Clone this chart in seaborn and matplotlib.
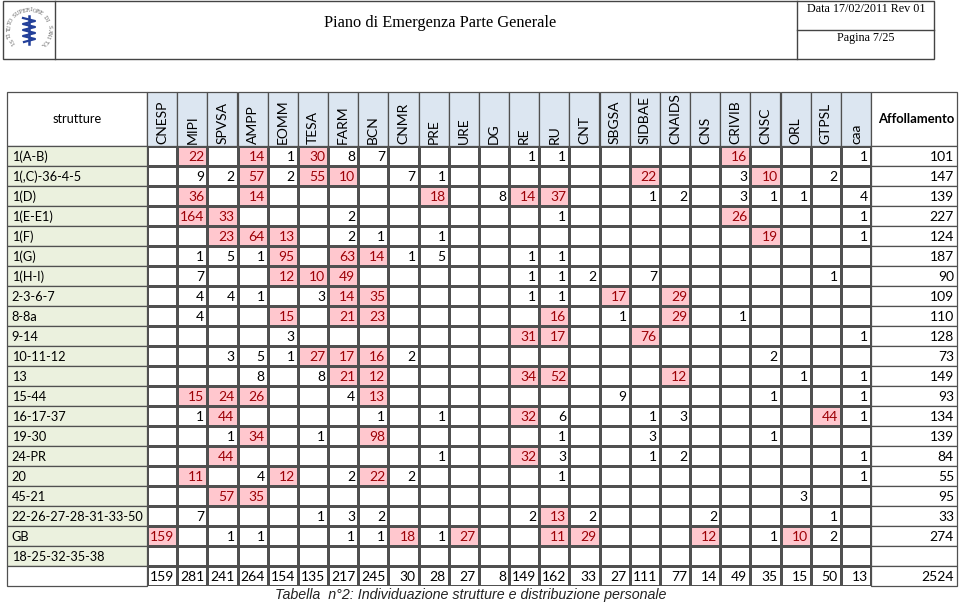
import matplotlib
matplotlib.use("Agg")
import matplotlib.pyplot as plt
from matplotlib.colors import ListedColormap
from matplotlib.patches import Rectangle
import numpy as np
import pandas as pd
import seaborn as sns

_ = None

# structures (rows) and departments (columns)
strutture = ["1(A-B)", "1(,C)-36-4-5", "1(D)", "1(E-E1)", "1(F)", "1(G)", "1(H-I)",
             "2-3-6-7", "8-8a", "9-14", "10-11-12", "13", "15-44", "16-17-37",
             "19-30", "24-PR", "20", "45-21", "22-26-27-28-31-33-50", "GB",
             "18-25-32-35-38"]
reparti = ["CNESP", "MIPI", "SPVSA", "AMPP", "EOMM", "TESA", "FARM", "BCN", "CNMR",
           "PRE", "URE", "DG", "RE", "RU", "CNT", "SBGSA", "SIDBAE", "CNAIDS", "CNS",
           "CRIVIB", "CNSC", "ORL", "GTPSL", "caa"]

# people per structure / department (None = empty cell)
valori = [
    [_, 22, _, 14, 1, 30, 8, 7, _, _, _, _, 1, 1, _, _, _, _, _, 16, _, _, _, 1],
    [_, 9, 2, 57, 2, 55, 10, _, 7, 1, _, _, _, _, _, _, 22, _, _, 3, 10, _, 2, _],
    [_, 36, _, 14, _, _, _, _, _, 18, _, 8, 14, 37, _, _, 1, 2, _, 3, 1, 1, _, 4],
    [_, 164, 33, _, _, _, 2, _, _, _, _, _, _, 1, _, _, _, _, _, 26, _, _, _, 1],
    [_, _, 23, 64, 13, _, 2, 1, _, 1, _, _, _, _, _, _, _, _, _, _, 19, _, _, 1],
    [_, 1, 5, 1, 95, _, 63, 14, 1, 5, _, _, 1, 1, _, _, _, _, _, _, _, _, _, _],
    [_, 7, _, _, 12, 10, 49, _, _, _, _, _, 1, 1, 2, _, 7, _, _, _, _, _, 1, _],
    [_, 4, 4, 1, _, 3, 14, 35, _, _, _, _, 1, 1, _, 17, _, 29, _, _, _, _, _, _],
    [_, 4, _, _, 15, _, 21, 23, _, _, _, _, _, 16, _, 1, _, 29, _, 1, _, _, _, _],
    [_, _, _, _, 3, _, _, _, _, _, _, _, 31, 17, _, _, 76, _, _, _, _, _, _, 1],
    [_, _, 3, 5, 1, 27, 17, 16, 2, _, _, _, _, _, _, _, _, _, _, _, 2, _, _, _],
    [_, _, _, 8, _, 8, 21, 12, _, _, _, _, 34, 52, _, _, _, 12, _, _, _, 1, _, 1],
    [_, 15, 24, 26, _, _, 4, 13, _, _, _, _, _, _, _, 9, _, _, _, _, 1, _, _, 1],
    [_, 1, 44, _, _, _, _, 1, _, 1, _, _, 32, 6, _, _, 1, 3, _, _, _, _, 44, 1],
    [_, _, 1, 34, _, 1, _, 98, _, _, _, _, _, 1, _, _, 3, _, _, _, 1, _, _, _],
    [_, _, 44, _, _, _, _, _, _, 1, _, _, 32, 3, _, _, 1, 2, _, _, _, _, _, 1],
    [_, 11, _, 4, 12, _, 2, 22, 2, _, _, _, _, 1, _, _, _, _, _, _, _, _, _, 1],
    [_, _, 57, 35, _, _, _, _, _, _, _, _, _, _, _, _, _, _, _, _, _, 3, _, _],
    [_, 7, _, _, _, 1, 3, 2, _, _, _, _, 2, 13, 2, _, _, _, 2, _, _, _, 1, _],
    [159, _, 1, 1, _, _, 1, 1, 18, 1, 27, _, _, 11, 29, _, _, _, 12, _, 1, 10, 2, _],
    [_] * 24,
]
affollamento = [101, 147, 139, 227, 124, 187, 90, 109, 110, 128, 73, 149, 93, 134,
                139, 84, 55, 95, 33, 274, _]
totali = [159, 281, 241, 264, 154, 135, 217, 245, 30, 28, 27, 8, 149, 162, 33, 27,
          111, 77, 14, 49, 35, 15, 50, 13]
totale_generale = 2524

SOGLIA = 10
PINK, PINK_TXT = "#ffc7ce", "#9c0006"
GREEN, BLUE = "#ebf1de", "#dce6f1"
LINE = "#505050"
FONT = "Lato"

W, H = 960, 603
fig = plt.figure(figsize=(W / 100, H / 100), dpi=100)

# page background: header box, logo, caption (pixel coordinates)
bg = fig.add_axes([0, 0, 1, 1])
bg.set_xlim(0, W)
bg.set_ylim(H, 0)
bg.axis("off")
bg.add_patch(Rectangle((3, 1), 931, 58, fill=False, ec="#444", lw=1.0))
bg.plot([55, 55], [1, 59], color="#444", lw=1.0)
bg.plot([797, 797], [1, 59], color="#444", lw=1.0)
bg.plot([797, 934], [30, 30], color="#444", lw=1.0)
bg.text(440, 23, "Piano di Emergenza Parte Generale", ha="center", va="center",
        family="Liberation Serif", fontsize=11.8)
bg.text(866, 9, "Data 17/02/2011 Rev 01", ha="center", va="center",
        family="Liberation Serif", fontsize=8.7)
bg.text(866, 38, "Pagina 7/25", ha="center", va="center",
        family="Liberation Serif", fontsize=8.7)
bg.text(471, 595, "Tabella  n°2: Individuazione strutture e distribuzione personale",
        ha="center", va="center", family="Liberation Sans", style="italic",
        fontsize=10.3, color="#222")

# logo: circular lettering and blue staff
cx, cy, r = 29, 30, 20
motto = "ISTITUTO SUPERIORE DI SANITÀ"
angs = np.linspace(220, -40, len(motto))
for ch, a in zip(motto, angs):
    t = np.deg2rad(a)
    bg.text(cx + r * np.cos(t), cy - r * np.sin(t), ch, ha="center", va="center",
            fontsize=4, color="#6a6a6a", rotation=a - 90, family="DejaVu Serif")
bg.plot([cx, cx], [cy - 14, cy + 14], color="#23409a", lw=1.8)
zig_y = np.linspace(cy - 12, cy + 12, 9)
zig_x = cx + np.array([-6, 6, -6, 6, -6, 6, -6, 6, -5])
bg.plot(zig_x, zig_y, color="#23409a", lw=1.6)

# table body via seaborn heatmap
x0, x1, y0, y1 = 147, 871, 146, 586
ax = fig.add_axes([x0 / W, 1 - y1 / H, (x1 - x0) / W, (y1 - y0) / H])

body = pd.DataFrame(valori, index=strutture, columns=reparti, dtype=float)
tot = pd.DataFrame([totali], index=["totale"], columns=reparti, dtype=float)
full = pd.concat([body, tot])
colore = (body >= SOGLIA).astype(int)
colore = pd.concat([colore, tot * 0]).fillna(0)

sns.heatmap(colore, ax=ax, cmap=ListedColormap(["white", PINK]), vmin=0, vmax=1,
            cbar=False, linewidths=0.9, linecolor=LINE, xticklabels=False,
            yticklabels=False)
ax.set_xlabel("")
ax.set_ylabel("")

ncol, nrow = len(reparti), len(full)
px_x = (x1 - x0) / ncol
px_y = (y1 - y0) / nrow
lab_w = (x0 - 7) / px_x
aff_w = (957 - x1) / px_x
head_h = (y0 - 92) / px_y
pad = 3 / px_x


def cell(x, y, w, h, fc):
    ax.add_patch(Rectangle((x, y), w, h, facecolor=fc, edgecolor=LINE, lw=0.9,
                           clip_on=False, zorder=3))


tk = dict(family=FONT, fontsize=10, clip_on=False, zorder=5)
tl = dict(tk, fontsize=9.2)

# header row
cell(-lab_w, -head_h, lab_w, head_h, "white")
ax.text(-lab_w / 2, -head_h / 2, "strutture", ha="center", va="center", **tl)
for j, rep in enumerate(reparti):
    cell(j, -head_h, 1, head_h, BLUE)
    ax.text(j + 0.5, -0.12, rep, rotation=90, ha="center", va="bottom", **tk)
cell(ncol, -head_h, aff_w, head_h, "white")
ax.text(ncol + aff_w - pad, -head_h / 2, "Affollamento", ha="right", va="center",
        fontweight="bold", **dict(tk, fontsize=9.4))

# row labels, affollamento column
for i, nome in enumerate(strutture):
    cell(-lab_w, i, lab_w, 1, GREEN)
    ax.text(-lab_w + 0.15, i + 0.55, nome, ha="left", va="center", **tl)
    cell(ncol, i, aff_w, 1, "white")
    if affollamento[i] is not None:
        ax.text(ncol + aff_w - pad, i + 0.55, str(affollamento[i]), ha="right",
                va="center", **tk)
cell(-lab_w, nrow - 1, lab_w, 1, "white")
cell(ncol, nrow - 1, aff_w, 1, "white")
ax.text(ncol + aff_w - pad, nrow - 0.45, str(totale_generale), ha="right",
        va="center", **tk)

# cell values
for i in range(nrow):
    for j in range(ncol):
        v = full.iat[i, j]
        if np.isnan(v):
            continue
        c = PINK_TXT if colore.iat[i, j] == 1 else "black"
        ax.text(j + 1 - pad, i + 0.55, str(int(v)), ha="right", va="center",
                color=c, **tk)

plt.savefig("out.png", dpi=100)
plt.close()
